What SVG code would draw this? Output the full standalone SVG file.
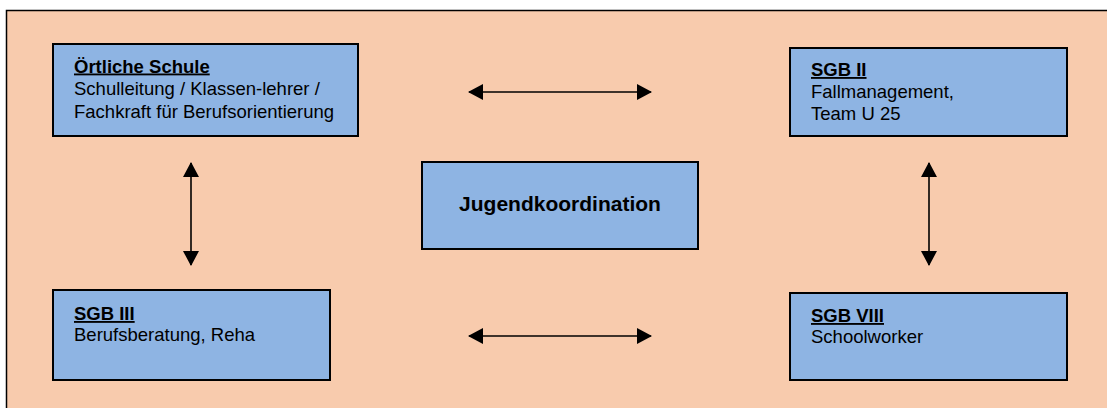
<svg xmlns="http://www.w3.org/2000/svg" width="1107" height="408" viewBox="0 0 1107 408">
<style>
.box{fill:#8EB4E3;stroke:#000;stroke-width:2}
.t{font-family:"Liberation Sans",Arial,sans-serif;font-size:18.5px;fill:#000}
.h{font-weight:bold;text-decoration:underline}
.c{font-family:"Liberation Sans",Arial,sans-serif;font-size:21px;font-weight:bold;fill:#000}
.conn{stroke:#000;stroke-width:1.6;fill:none;marker-start:url(#ah);marker-end:url(#ah)}
</style>
<defs>
<marker id="ah" viewBox="0 0 15 16" refX="14" refY="8" markerWidth="15" markerHeight="16" markerUnits="userSpaceOnUse" orient="auto-start-reverse">
<path d="M0,0 L15,8 L0,16 Z" fill="#000"/>
</marker>
</defs>
<rect x="0" y="0" width="1107" height="408" fill="#fff"/>
<rect x="6.5" y="10.5" width="1120" height="420" fill="#F8CBAD" stroke="#000" stroke-width="1.5"/>
<g id="connectors">
<line class="conn" x1="469" y1="92" x2="651" y2="92"/>
<line class="conn" x1="469" y1="336" x2="651" y2="336"/>
<line class="conn" x1="191" y1="163" x2="191" y2="265"/>
<line class="conn" x1="929" y1="163" x2="929" y2="265"/>
</g>
<g id="schule">
<rect class="box" x="53" y="44" width="305" height="92"/>
<text class="t" x="74" y="72.5"><tspan class="h">Örtliche Schule</tspan><tspan x="74" y="95">Schulleitung / Klassen-lehrer /</tspan><tspan x="74" y="118">Fachkraft für Berufsorientierung</tspan></text>
</g>
<g id="sgb2">
<rect class="box" x="790" y="48" width="277" height="88"/>
<text class="t" x="811" y="76"><tspan class="h">SGB II</tspan><tspan x="811" y="98">Fallmanagement,</tspan><tspan x="811" y="120">Team U 25</tspan></text>
</g>
<g id="jugend">
<rect class="box" x="422" y="162" width="276" height="87"/>
<text class="c" x="560" y="211" text-anchor="middle">Jugendkoordination</text>
</g>
<g id="sgb3">
<rect class="box" x="53" y="290" width="277" height="90"/>
<text class="t" x="74" y="320"><tspan class="h">SGB III</tspan><tspan x="74" y="341">Berufsberatung, Reha</tspan></text>
</g>
<g id="sgb8">
<rect class="box" x="790" y="293" width="277" height="87"/>
<text class="t" x="811" y="322"><tspan class="h">SGB VIII</tspan><tspan x="811" y="343">Schoolworker</tspan></text>
</g>
</svg>
